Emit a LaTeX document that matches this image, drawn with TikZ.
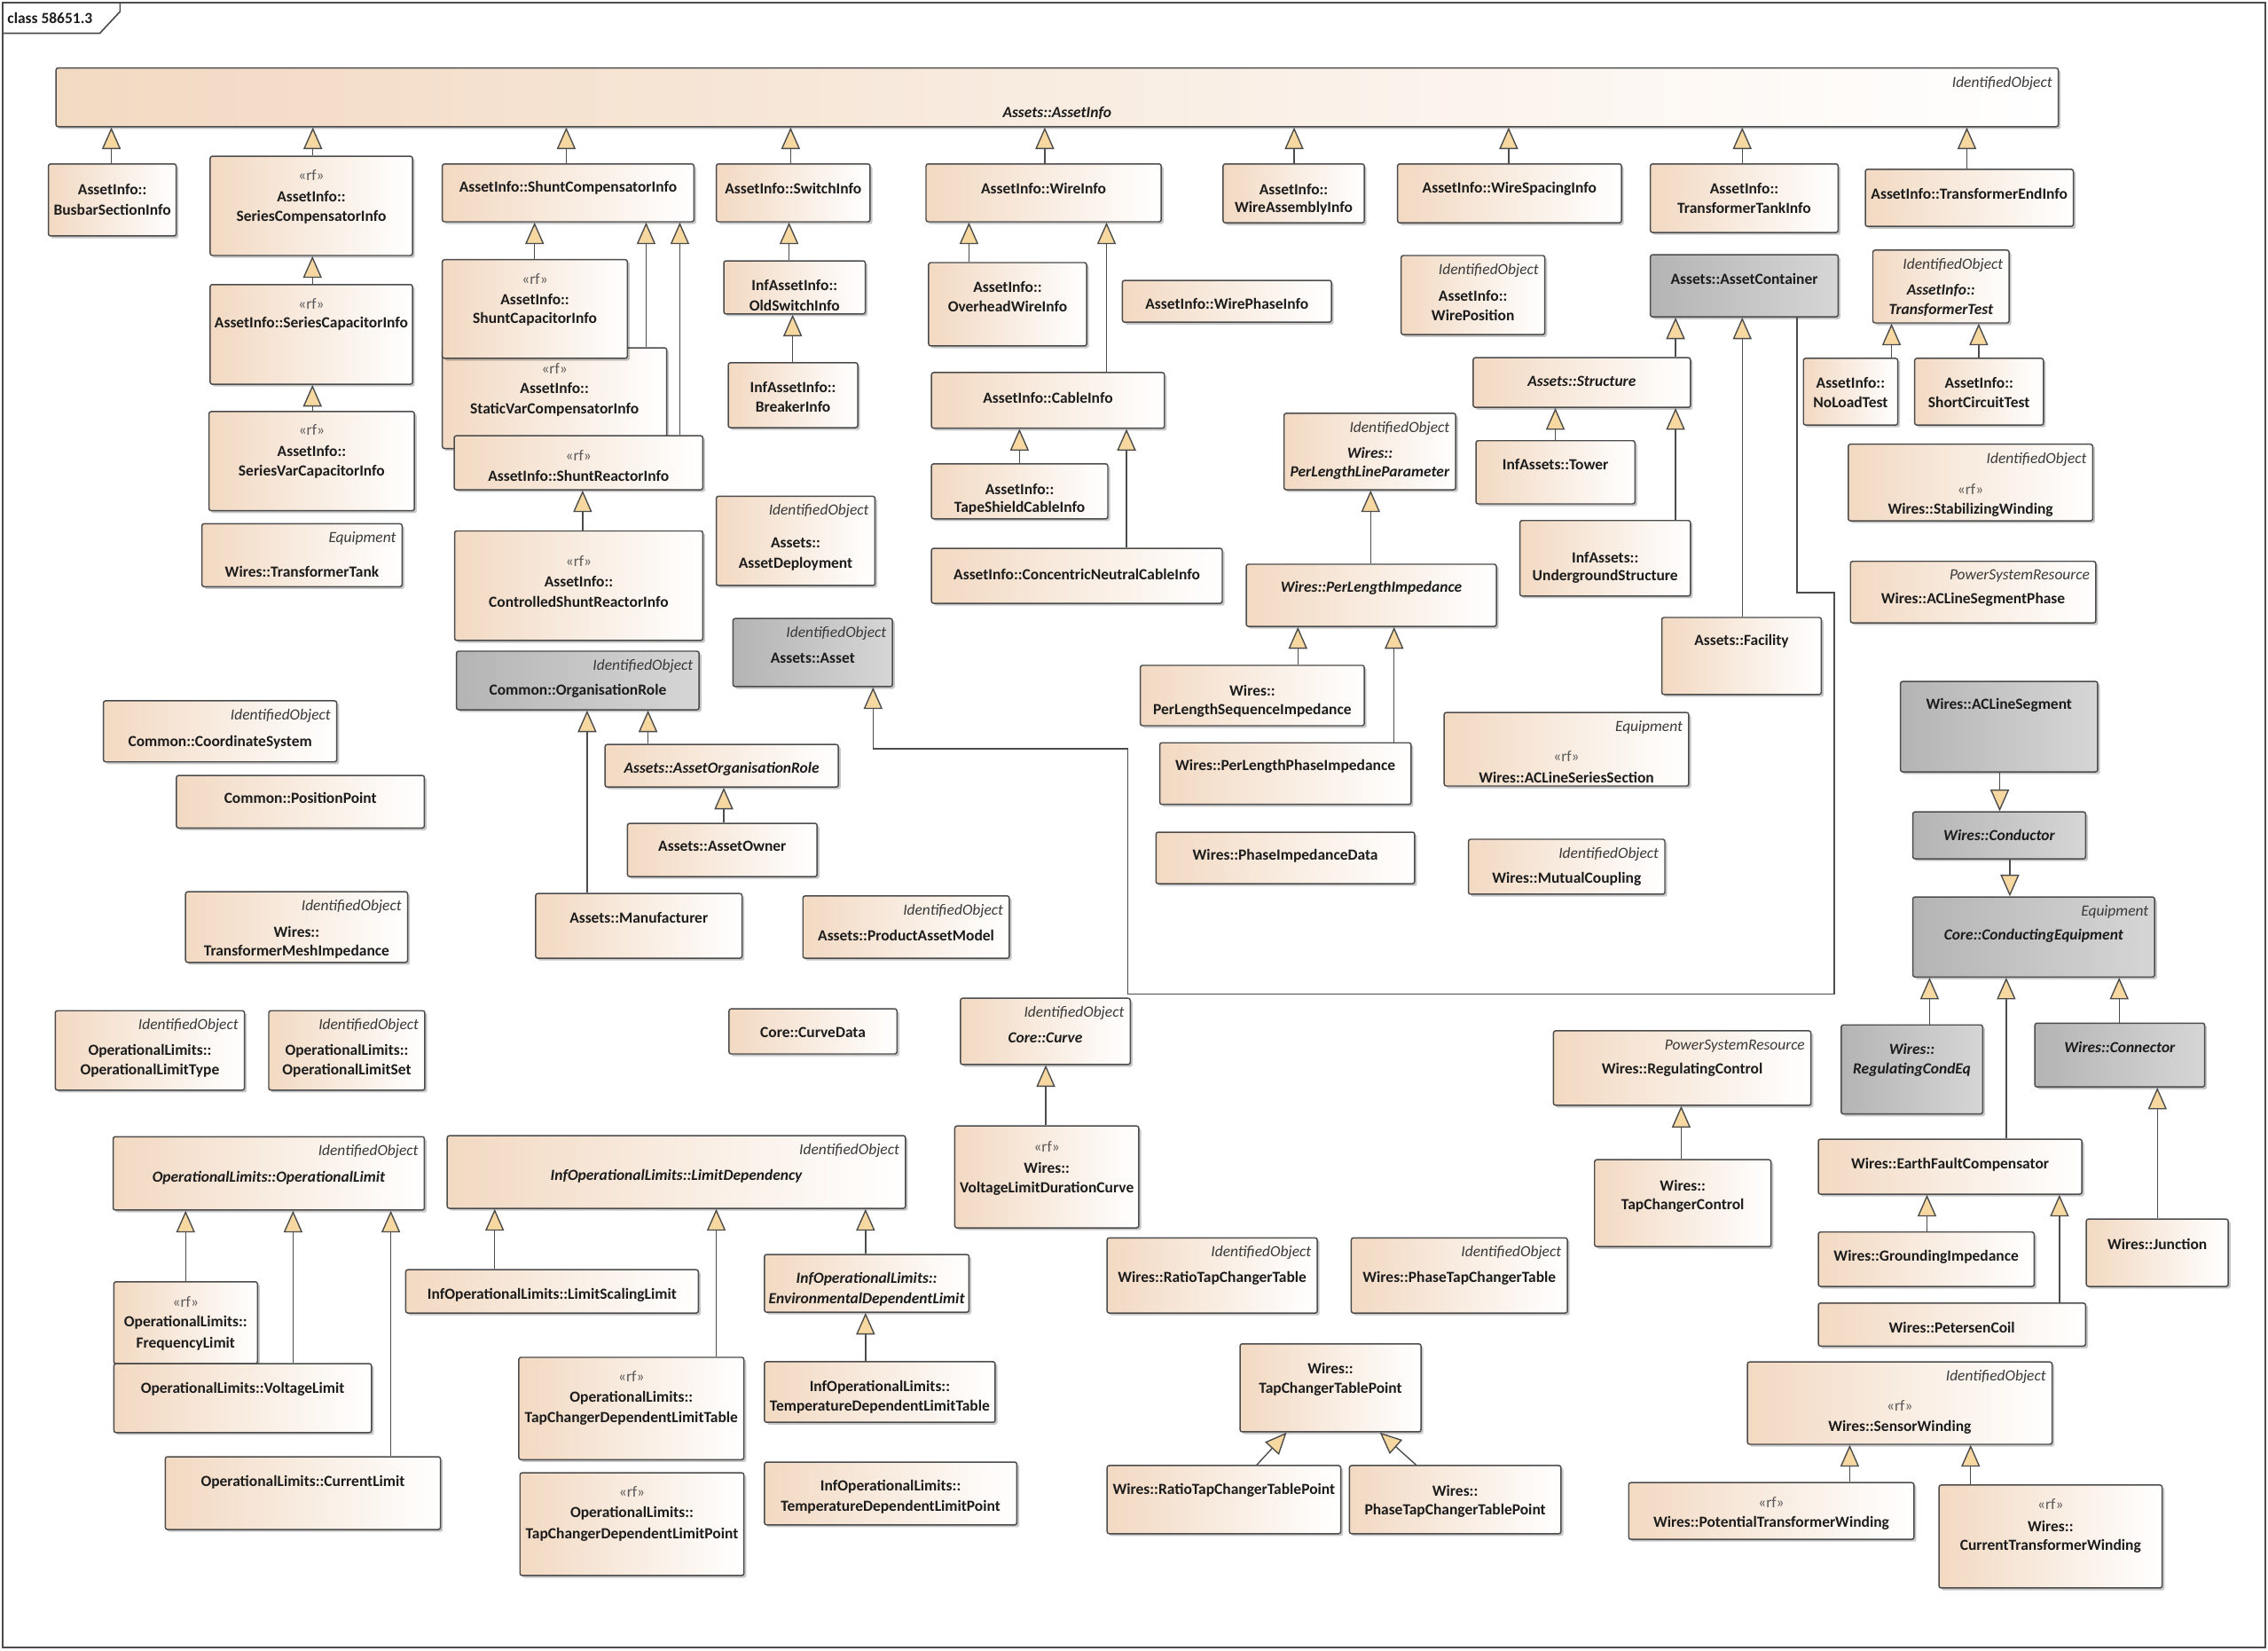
\documentclass[tikz,border=0pt]{standalone}
\usepackage{fontspec}
\setmainfont{Carlito}
\usetikzlibrary{arrows.meta,fit,shadows}
\definecolor{peach}{HTML}{F2D9C2}
\definecolor{gA}{HTML}{B4B4B4}
\definecolor{gB}{HTML}{D6D6D6}
\definecolor{lc}{HTML}{4C4C4C}
\definecolor{tri}{HTML}{F7D8A0}
\definecolor{txt}{HTML}{1C1C1C}
\definecolor{stc}{HTML}{3A3A3A}
\definecolor{rfc}{HTML}{5A5A5A}
\newcommand\fs{\fontsize{10.7}{12.8}\selectfont}
\newcommand\rf{{\mdseries\color{rfc}«rf»}}
\newcommand\ib[1]{{\itshape #1}}
\tikzset{
  box/.style={draw=lc, line width=0.9pt, rounded corners=1.5pt, inner sep=0pt,
    left color=peach, right color=white,
    drop shadow={shadow xshift=1.6pt, shadow yshift=-1.6pt, opacity=0.22, fill=black}},
  gbox/.style={left color=gA, right color=gB},
  nm/.style={font=\fs\bfseries, text=txt, inner sep=0pt},
  st/.style={font=\fs\itshape, text=stc, inner sep=0pt, anchor=east},
  gen/.style={draw=lc, line width=0.85pt, -{Triangle[length=15pt, width=13pt, fill=tri]}}
}
\newcommand\cls[7][]{%
  \node[box,#1,fit={(#3,#4) (#5,#6)}] (#2) {};
  \foreach \cLy/\cLt [count=\cLi] in {#7} {\node[nm] (#2-\cLi) at ({(#3+#5)/2},\cLy) {\cLt};}%
}
\newcommand\ster[2]{\node[st] (#1-st) at ([xshift=-4.5pt,yshift=-10.8pt]#1.north east) {#2};}
\newcommand\gen[3]{\draw[gen] (#1.north -| #3,0) -- (#2.south -| #3,0);}
\begin{document}
\begin{tikzpicture}[x=1pt,y=-1pt]
\useasboundingbox (0,0) rectangle (1568,1141);
\fill[white] (0,0) rectangle (1568,1141);
\draw[lc, line width=1.2pt] (2,2) rectangle (1566,1139);
\draw[lc, line width=1pt] (2,23) -- (69,23) -- (83,8) -- (83,2);
\node[nm, anchor=west] (title) at (5,12.5) {class 58651.3};

% ---------- top AssetInfo hierarchy
\cls{ai}{38.7}{47}{1423}{87.6}{78/\ib{Assets::AssetInfo}}\ster{ai}{IdentifiedObject}
\cls{busbar}{33.5}{113.3}{121.8}{163.1}{131/AssetInfo::, 144.7/BusbarSectionInfo}
\cls{sercomp}{145.3}{108}{285.2}{176.6}{121.4/\rf, 135.6/AssetInfo::, 150/SeriesCompensatorInfo}
\cls{sercap}{145.3}{196.7}{285.2}{265.6}{210/\rf, 223.7/AssetInfo::SeriesCapacitorInfo}
\cls{servar}{144.5}{284.5}{286.5}{353}{297.3/\rf, 312/AssetInfo::, 326/SeriesVarCapacitorInfo}
\cls{ttank}{139.6}{362}{278}{405.5}{395/Wires::TransformerTank}\ster{ttank}{Equipment}
\cls{shcomp}{305.8}{113.3}{479.7}{153.3}{130/AssetInfo::ShuntCompensatorInfo}
\cls{svc}{305.8}{240.4}{460.9}{310}{255/\rf, 268.5/AssetInfo::, 283/StaticVarCompensatorInfo}
\cls{shcap}{305.8}{179.5}{433.8}{247.7}{193/\rf, 206.8/AssetInfo::, 220.7/ShuntCapacitorInfo}
\cls{shreact}{314}{301.2}{485.9}{338.5}{314.7/\rf, 328.7/AssetInfo::ShuntReactorInfo}
\cls{cshreact}{314.3}{367}{485.9}{442.7}{387.8/\rf, 401.8/AssetInfo::, 415.8/ControlledShuntReactorInfo}
\cls{switch}{495.2}{113.3}{601.5}{153.3}{130/AssetInfo::SwitchInfo}
\cls{oldsw}{500.4}{180.3}{598.2}{217}{197.4/InfAssetInfo::, 211/OldSwitchInfo}
\cls{breaker}{503.5}{250.7}{593}{295.6}{267.4/InfAssetInfo::, 281.3/BreakerInfo}
\cls{assetdep}{495.2}{343}{604.9}{404.7}{375/Assets::, 390/AssetDeployment}\ster{assetdep}{IdentifiedObject}
\cls{wireinfo}{640.2}{113.3}{802.8}{153.3}{130/AssetInfo::WireInfo}
\cls{overhead}{642}{181.5}{751.2}{239.1}{198.2/AssetInfo::, 211.8/OverheadWireInfo}
\cls{cable}{644}{257.5}{805}{296}{275/AssetInfo::CableInfo}
\cls{tapeshield}{644}{320.6}{765.9}{358.6}{338/AssetInfo::, 351.5/TapeShieldCableInfo}
\cls{concentric}{644}{379}{845}{417}{397/AssetInfo::ConcentricNeutralCableInfo}
\cls{wirephase}{776}{193.8}{920.5}{222.7}{209.7/AssetInfo::WirePhaseInfo}
\cls{wireassembly}{845.6}{113.3}{943.2}{154}{130.7/AssetInfo::, 144.2/WireAssemblyInfo}
\cls{wirespacing}{966.2}{113.3}{1121}{154}{130.7/AssetInfo::WireSpacingInfo}
\cls{ttankinfo}{1141}{113.3}{1270.8}{160.7}{130/AssetInfo::, 143.5/TransformerTankInfo}
\cls{tendinfo}{1289.6}{117}{1433.4}{156.5}{134.2/AssetInfo::TransformerEndInfo}
\cls{wirepos}{968.7}{176.6}{1068}{231.3}{204.3/AssetInfo::, 217.8/WirePosition}\ster{wirepos}{IdentifiedObject}
\cls[gbox]{container}{1141}{176.1}{1270.8}{219}{193/Assets::AssetContainer}
\cls{structure}{1018.5}{247.2}{1168.7}{281.6}{263.7/\ib{Assets::Structure}}
\cls{tower}{1020.4}{304.6}{1130.3}{348.3}{321.3/InfAssets::Tower}
\cls{underground}{1050.8}{359.8}{1168.7}{412}{385.1/InfAssets::, 398.6/UndergroundStructure}
\cls{facility}{1148.9}{426.8}{1259.2}{480}{443.5/Assets::Facility}
\cls{ttest}{1294.8}{172.9}{1389}{223.2}{200.6/\ib{AssetInfo::}, 214.1/\ib{TransformerTest}}\ster{ttest}{IdentifiedObject}
\cls{noload}{1246.8}{247.7}{1312}{293.8}{264.4/AssetInfo::, 277.9/NoLoadTest}
\cls{shortc}{1323.7}{247.7}{1412.7}{293.8}{264.4/AssetInfo::, 277.9/ShortCircuitTest}
\cls{stabw}{1277.8}{307}{1446.8}{360}{338/\rf, 352.5/Wires::StabilizingWinding}\ster{stabw}{IdentifiedObject}
\cls{aclsp}{1279.3}{388}{1448.9}{430.5}{414.5/Wires::ACLineSegmentPhase}\ster{aclsp}{PowerSystemResource}

% ---------- per length impedances
\cls{perlineparam}{887.7}{285.7}{1006.4}{338.5}{313.2/\ib{Wires::}, 327/\ib{PerLengthLineParameter}}\ster{perlineparam}{IdentifiedObject}
\cls{perimp}{861.6}{390}{1034.5}{433}{406.4/\ib{Wires::PerLengthImpedance}}
\cls{perseq}{788.4}{459.9}{943.2}{501.6}{477.6/Wires::, 491.1/PerLengthSequenceImpedance}
\cls{perphase}{801.8}{513.4}{975.5}{556}{529.8/Wires::PerLengthPhaseImpedance}
\cls{aclss}{998.4}{492.5}{1167.5}{543.3}{523/\rf, 537.2/Wires::ACLineSeriesSection}\ster{aclss}{Equipment}
\cls{phimpdata}{799.2}{575.2}{978}{610.8}{591.6/Wires::PhaseImpedanceData}
\cls{mutual}{1015.2}{580.1}{1151}{618.1}{607.6/Wires::MutualCoupling}\ster{mutual}{IdentifiedObject}

% ---------- assets / common
\cls[gbox]{asset}{506.8}{427.5}{617}{474.6}{455/Assets::Asset}\ster{asset}{IdentifiedObject}
\cls[gbox]{orgrole}{315.6}{450.1}{483.3}{490.6}{477.6/Common::OrganisationRole}\ster{orgrole}{IdentifiedObject}
\cls{aorgrole}{418.3}{514.6}{579.6}{544}{531.5/\ib{Assets::AssetOrganisationRole}}
\cls{owner}{433.8}{569.1}{564.9}{605.9}{585/Assets::AssetOwner}
\cls{manuf}{370.3}{617.6}{513}{662.3}{634.6/Assets::Manufacturer}
\cls{pam}{555.1}{619.3}{697.8}{662.3}{646.8/Assets::ProductAssetModel}\ster{pam}{IdentifiedObject}
\cls{coordsys}{71.5}{484.4}{232.8}{526.6}{513.1/Common::CoordinateSystem}\ster{coordsys}{IdentifiedObject}
\cls{pospoint}{122}{536}{293.4}{572.3}{551.4/Common::PositionPoint}
\cls{tmesh}{128.3}{616.4}{281.8}{665.2}{644.4/Wires::, 658.1/TransformerMeshImpedance}\ster{tmesh}{IdentifiedObject}
\cls{oltype}{38.2}{698.6}{169}{753.5}{726.5/OperationalLimits::, 740/OperationalLimitType}\ster{oltype}{IdentifiedObject}
\cls{olset}{185.8}{698.6}{293.7}{753.5}{726.5/OperationalLimits::, 740/OperationalLimitSet}\ster{olset}{IdentifiedObject}
\cls{curvedata}{504}{697.3}{620.1}{728.5}{713.8/Core::CurveData}
\cls{curve}{664}{690}{781.4}{735.8}{717.5/\ib{Core::Curve}}\ster{curve}{IdentifiedObject}
\cls{vldc}{660.1}{778.3}{787.3}{848.7}{792.3/\rf, 807/Wires::, 821.7/VoltageLimitDurationCurve}

% ---------- operational limits
\cls{oplimit}{78.2}{785.7}{293.4}{836.4}{814.4/\ib{OperationalLimits::OperationalLimit}}\ster{oplimit}{IdentifiedObject}
\cls{freq}{78.7}{886}{178}{942.6}{900.2/\rf, 914.4/OperationalLimits::, 928.7/FrequencyLimit}
\cls{voltage}{78.7}{942.6}{256.8}{990.2}{960.3/OperationalLimits::VoltageLimit}
\cls{current}{114.3}{1006.9}{304.5}{1057.2}{1024.6/OperationalLimits::CurrentLimit}
\cls{limdep}{309.2}{785}{626}{835.2}{813.1/\ib{InfOperationalLimits::LimitDependency}}\ster{limdep}{IdentifiedObject}
\cls{lscal}{280.5}{877.6}{482.8}{907.6}{895.3/InfOperationalLimits::LimitScalingLimit}
\cls{tcdlt}{358.7}{938.2}{514.3}{1008.9}{951.7/\rf, 966/OperationalLimits::, 980.7/TapChangerDependentLimitTable}
\cls{tcdlp}{359.5}{1018}{514.3}{1089}{1031.4/\rf, 1046.1/OperationalLimits::, 1060.9/TapChangerDependentLimitPoint}
\cls{envdl}{528.5}{867.1}{669.9}{907}{884.3/\ib{InfOperationalLimits::}, 898.5/\ib{EnvironmentalDependentLimit}}
\cls{tdlt}{528.5}{941.2}{688}{983.1}{958.6/InfOperationalLimits::, 972.6/TemperatureDependentLimitTable}
\cls{tdlp}{528.5}{1010.6}{703}{1054}{1027.8/InfOperationalLimits::, 1041.7/TemperatureDependentLimitPoint}

% ---------- tap changers
\cls{rtct}{765.4}{855.6}{910.7}{907.6}{883.8/Wires::RatioTapChangerTable}\ster{rtct}{IdentifiedObject}
\cls{ptct}{934.2}{855.6}{1083.6}{907.6}{883.8/Wires::PhaseTapChangerTable}\ster{ptct}{IdentifiedObject}
\cls{tctp}{857.3}{928.9}{982.4}{989.7}{946/Wires::, 960.3/TapChangerTablePoint}
\cls{rtctp}{765.4}{1013}{926.9}{1060.1}{1030.2/Wires::RatioTapChangerTablePoint}
\cls{ptctp}{932.9}{1013}{1079.2}{1060.1}{1030.2/Wires::, 1044.2/PhaseTapChangerTablePoint}
\cls{regctl}{1074}{712.5}{1252}{764}{739.5/Wires::RegulatingControl}\ster{regctl}{PowerSystemResource}
\cls{tcctl}{1102.4}{801.6}{1224.4}{861.7}{819.3/Wires::, 833.3/TapChangerControl}

% ---------- conducting equipment
\cls[gbox]{acls}{1313.9}{471}{1450.2}{533.5}{487.4/Wires::ACLineSegment}
\cls[gbox]{conductor}{1322.4}{561.2}{1441.9}{593.6}{577.6/\ib{Wires::Conductor}}
\cls[gbox]{condeq}{1322.4}{620}{1489.6}{675.3}{647/\ib{Core::ConductingEquipment}}\ster{condeq}{Equipment}
\cls[gbox]{regcondeq}{1272.9}{708.4}{1370.7}{770}{724.8/\ib{Wires::}, 739.5/\ib{RegulatingCondEq}}
\cls[gbox]{connector}{1406.8}{707.2}{1524.2}{751.3}{723.6/\ib{Wires::Connector}}
\cls{efc}{1257.1}{787.4}{1439.3}{825.4}{805/Wires::EarthFaultCompensator}
\cls{gimp}{1257.1}{851.6}{1406.3}{889.2}{869/Wires::GroundingImpedance}
\cls{petersen}{1257.1}{900.7}{1441.9}{930.4}{917.4/Wires::PetersenCoil}
\cls{junction}{1442.4}{842.6}{1540.5}{889.2}{859.7/Wires::Junction}
\cls{sensorw}{1208.1}{941.4}{1418.7}{998.3}{971.8/\rf, 986.5/Wires::SensorWinding}\ster{sensorw}{IdentifiedObject}
\cls{ptw}{1126}{1024.8}{1323.2}{1064}{1038.3/\rf, 1053/Wires::PotentialTransformerWinding}
\cls{ctw}{1340.5}{1026.5}{1494.8}{1097.6}{1040/\rf, 1054.7/Wires::, 1068.7/CurrentTransformerWinding}

% ---------- generalisations
\gen{busbar}{ai}{77}
\gen{sercomp}{ai}{216.3}
\gen{shcomp}{ai}{391.5}
\gen{switch}{ai}{546.6}
\gen{wireinfo}{ai}{722.3}
\gen{wireassembly}{ai}{894.7}
\gen{wirespacing}{ai}{1043}
\gen{ttankinfo}{ai}{1204.5}
\gen{tendinfo}{ai}{1359.8}
\gen{sercap}{sercomp}{216}
\gen{servar}{sercap}{216}
\gen{shcap}{shcomp}{369.6}
\gen{svc}{shcomp}{446.7}
\gen{shreact}{shcomp}{470}
\gen{cshreact}{shreact}{402.8}
\gen{oldsw}{switch}{545.5}
\gen{breaker}{oldsw}{548}
\gen{overhead}{wireinfo}{669.9}
\gen{cable}{wireinfo}{765}
\gen{tapeshield}{cable}{704.8}
\gen{concentric}{cable}{778.8}
\gen{noload}{ttest}{1307.7}
\gen{shortc}{ttest}{1368}
\gen{structure}{container}{1158.4}
\gen{facility}{container}{1204.5}
\gen{tower}{structure}{1075.3}
\gen{underground}{structure}{1158.4}
\gen{perimp}{perlineparam}{947.6}
\gen{perseq}{perimp}{897.3}
\gen{perphase}{perimp}{963.8}
\gen{manuf}{orgrole}{405.9}
\gen{aorgrole}{orgrole}{448}
\gen{owner}{aorgrole}{500.4}
\gen{vldc}{curve}{723}
\gen{freq}{oplimit}{128.3}
\gen{voltage}{oplimit}{202.6}
\gen{current}{oplimit}{270.2}
\gen{lscal}{limdep}{342}
\gen{tcdlt}{limdep}{495.2}
\gen{envdl}{limdep}{598.4}
\gen{tdlt}{envdl}{598.4}
\gen{tcctl}{regctl}{1162.3}
\gen{regcondeq}{condeq}{1334}
\gen{efc}{condeq}{1387}
\gen{connector}{condeq}{1465.1}
\gen{gimp}{efc}{1332.2}
\gen{petersen}{efc}{1423.8}
\gen{junction}{connector}{1491.5}
\gen{ptw}{sensorw}{1278.8}
\gen{ctw}{sensorw}{1362.4}
\draw[gen] (acls.south -| 1382.5,0) -- (conductor.north -| 1382.5,0);
\draw[gen] (conductor.south -| 1389.5,0) -- (condeq.north -| 1389.5,0);
\draw[gen] (rtctp.north -| 868.9,0) -- (tctp.south -| 889.5,0);
\draw[gen] (ptctp.north -| 979,0) -- (tctp.south -| 954,0);
\draw[gen] (container.south -| 1242.4,0) -- (1242.4,409.6) -- (1268.2,409.6) -- (1268.2,687)
  -- (779.6,687) -- (779.6,517.6) -- (603.6,517.6) -- (asset.south -| 603.6,0);
\end{tikzpicture}
\end{document}
